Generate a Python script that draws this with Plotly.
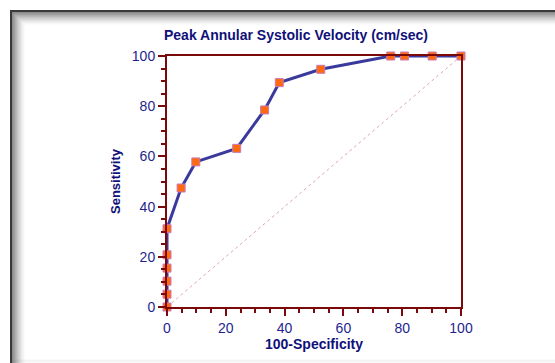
import plotly.graph_objects as go

# ROC data
fpr = [0, 0, 0, 0, 0, 0, 4.8, 9.8, 23.7, 33.2, 38.2, 52.3, 76.1, 80.8, 90.2, 100]
tpr = [0, 5.1, 10.3, 15.5, 20.8, 31.2, 47.4, 57.8, 63.2, 78.5, 89.4, 94.7, 100, 100, 100, 100]
diag_x = [0, 100]
diag_y = [0, 100]

W, H = 555, 363
L, R, T, B = 167, 461, 56, 307

def px(x):
    return (x - L) / (R - L)

def py(y):
    return (B - y) / (B - T)

AX = "#7a0a0a"
NAVY = "#1f1f8f"
FONT = "Arial, Liberation Sans, sans-serif"

fig = go.Figure()
fig.add_trace(go.Scatter(x=diag_x, y=diag_y, mode="lines",
                         line=dict(color="#e0a8a8", width=1, dash="dot"),
                         hoverinfo="skip", showlegend=False))
fig.add_trace(go.Scatter(x=fpr, y=tpr, mode="lines+markers",
                         line=dict(color="#3a3a9c", width=3),
                         marker=dict(symbol="square", size=8, color="#ff6a10",
                                     line=dict(color="#c87ab8", width=1)),
                         cliponaxis=False, showlegend=False))

shapes = []
# window frame with shadow gradient
for i in range(14):
    op = 0.55 * (1 - i / 14) ** 1.6
    shapes.append(dict(type="line", xref="paper", yref="paper",
                       x0=px(12 + i), x1=px(12 + i), y0=py(12 + i), y1=py(363),
                       line=dict(color="rgba(0,0,0,%.3f)" % op, width=1)))
    shapes.append(dict(type="line", xref="paper", yref="paper",
                       x0=px(12 + i), x1=px(555), y0=py(12 + i), y1=py(12 + i),
                       line=dict(color="rgba(0,0,0,%.3f)" % op, width=1)))
shapes.append(dict(type="line", xref="paper", yref="paper",
                   x0=px(11), x1=px(11), y0=py(10), y1=py(363),
                   line=dict(color="#3a3a3a", width=2)))
shapes.append(dict(type="line", xref="paper", yref="paper",
                   x0=px(10), x1=px(555), y0=py(11), y1=py(11),
                   line=dict(color="#3a3a3a", width=2)))
# faint bottom edge
shapes.append(dict(type="line", xref="paper", yref="paper",
                   x0=px(12), x1=px(555), y0=py(361), y1=py(361),
                   line=dict(color="rgba(0,0,0,0.04)", width=3)))

fig.update_layout(
    width=W, height=H,
    margin=dict(l=L, r=W - R, t=T, b=H - B),
    paper_bgcolor="white", plot_bgcolor="white",
    shapes=shapes,
    title=dict(text="<b>Peak Annular Systolic Velocity (cm/sec)</b>",
               xref="container", x=296 / W, xanchor="center",
               yref="container", y=1 - 35 / H, yanchor="middle",
               font=dict(family=FONT, size=14, color="#10107a")),
    font=dict(family=FONT),
)
fig.update_xaxes(range=[0, 100], tickvals=[0, 20, 40, 60, 80, 100],
                 showgrid=False, zeroline=False,
                 showline=True, linecolor=AX, linewidth=2, mirror=True,
                 ticks="outside", ticklen=7, tickwidth=2, tickcolor=AX,
                 minor=dict(dtick=5, ticks="outside", ticklen=4, tickwidth=1.5, tickcolor=AX),
                 tickfont=dict(family=FONT, size=14, color=NAVY),
                 title=dict(text="<b>100-Specificity</b>", standoff=4,
                            font=dict(family=FONT, size=14, color="#10107a")))
fig.update_yaxes(range=[0, 100], tickvals=[0, 20, 40, 60, 80, 100],
                 showgrid=False, zeroline=False,
                 showline=True, linecolor=AX, linewidth=2, mirror=True,
                 ticks="outside", ticklen=7, tickwidth=2, tickcolor=AX,
                 minor=dict(dtick=5, ticks="outside", ticklen=4, tickwidth=1.5, tickcolor=AX),
                 tickfont=dict(family=FONT, size=14, color=NAVY),
                 title=dict(text="<b>Sensitivity</b>", standoff=8,
                            font=dict(family=FONT, size=13, color="#10107a")))

fig.write_html("out.html")
